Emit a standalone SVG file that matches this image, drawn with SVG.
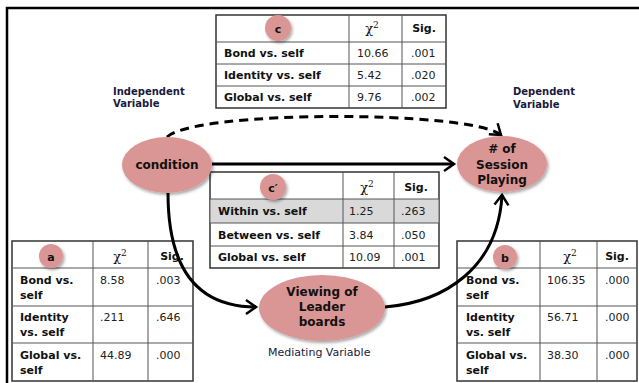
<svg xmlns="http://www.w3.org/2000/svg" width="639" height="383" viewBox="0 0 639 383">
<style>
.lbl{font-family:"DejaVu Sans",Verdana,sans-serif;font-size:11px;font-weight:bold;fill:#111}
.num{font-family:"DejaVu Sans",Verdana,sans-serif;font-size:11px;fill:#222}
.hd{font-family:"DejaVu Sans",Verdana,sans-serif;font-size:11px;font-weight:bold;fill:#111;text-anchor:middle}
.chi{font-family:"DejaVu Serif","Liberation Serif",serif;font-size:13px;fill:#111;text-anchor:middle}
.node{font-family:"DejaVu Sans",Verdana,sans-serif;font-size:12px;font-weight:bold;fill:#111;text-anchor:middle}
.var{font-family:"DejaVu Sans",Verdana,sans-serif;font-size:10px;font-weight:bold;fill:#1a1a40}
.med{font-family:"DejaVu Sans",Verdana,sans-serif;font-size:11px;fill:#1a1a40}
.grid{stroke:#555;stroke-width:1;fill:none}
.outer{stroke:#333;stroke-width:1.5;fill:#fff}
.ell{fill:#d99694;filter:url(#sh)}
.conn{fill:none;stroke:#000;stroke-width:3}
</style>
<defs>
<filter id="sh" x="-20%" y="-20%" width="150%" height="150%">
<feDropShadow dx="1.5" dy="2" stdDeviation="1.5" flood-color="#000" flood-opacity="0.35"/>
</filter>
<marker id="arr" markerUnits="userSpaceOnUse" markerWidth="20" markerHeight="20" viewBox="-12 -10 14 20" refX="0" refY="0" orient="auto">
<path d="M-10,-7 L0,0 L-10,7" fill="none" stroke="#000" stroke-width="2.5" stroke-dasharray="none"/>
</marker>
</defs>
<rect width="639" height="383" fill="#fff"/>
<path d="M639,8 H7 V383" fill="none" stroke="#000" stroke-width="2.5"/>

<g id="table-c">
<rect class="outer" x="216" y="15" width="230" height="93"/>
<path class="grid" d="M216,42 H446 M216,64 H446 M216,86 H446 M349,15 V108 M402,15 V108"/>
<circle class="ell" cx="278" cy="28" r="13"/>
<text class="hd" x="278" y="33" font-size="12">c</text>
<text class="chi" x="372" y="33">χ<tspan font-size="9" dy="-5">2</tspan></text>
<text class="hd" x="424" y="32">Sig.</text>
<text class="lbl" x="224" y="57">Bond vs. self</text>
<text class="lbl" x="224" y="79">Identity vs. self</text>
<text class="lbl" x="224" y="101">Global vs. self</text>
<text class="num" x="357" y="57">10.66</text>
<text class="num" x="357" y="79">5.42</text>
<text class="num" x="357" y="101">9.76</text>
<text class="num" x="411" y="57">.001</text>
<text class="num" x="411" y="79">.020</text>
<text class="num" x="411" y="101">.002</text>
</g>

<g id="table-cprime">
<rect class="outer" x="210" y="172" width="229" height="96"/>
<rect x="210.5" y="199" width="228" height="24" fill="#d9d9d9"/>
<path class="grid" d="M210,199 H439 M210,223 H439 M210,246 H439 M343,172 V268 M394,172 V268"/>
<circle class="ell" cx="273" cy="187" r="13"/>
<text class="hd" x="273" y="192" font-size="12">c′</text>
<text class="chi" x="367" y="192">χ<tspan font-size="9" dy="-5">2</tspan></text>
<text class="hd" x="416" y="191">Sig.</text>
<text class="lbl" x="218" y="215">Within vs. self</text>
<text class="lbl" x="218" y="239">Between vs. self</text>
<text class="lbl" x="218" y="261">Global vs. self</text>
<text class="num" x="349" y="215">1.25</text>
<text class="num" x="349" y="239">3.84</text>
<text class="num" x="349" y="261">10.09</text>
<text class="num" x="401" y="215">.263</text>
<text class="num" x="401" y="239">.050</text>
<text class="num" x="401" y="261">.001</text>
</g>

<g id="table-a">
<rect class="outer" x="12" y="241" width="181" height="140"/>
<path class="grid" d="M12,268 H193 M12,306 H193 M12,343 H193 M93,241 V381 M148,241 V381"/>
<circle class="ell" cx="51" cy="256" r="12"/>
<text class="hd" x="51" y="261" font-size="12">a</text>
<text class="chi" x="120" y="261">χ<tspan font-size="9" dy="-5">2</tspan></text>
<text class="hd" x="172" y="260">Sig.</text>
<text class="lbl" x="20" y="284">Bond vs.</text>
<text class="lbl" x="20" y="299">self</text>
<text class="lbl" x="20" y="321">Identity</text>
<text class="lbl" x="20" y="336">vs. self</text>
<text class="lbl" x="20" y="359">Global vs.</text>
<text class="lbl" x="20" y="374">self</text>
<text class="num" x="100" y="284">8.58</text>
<text class="num" x="100" y="321">.211</text>
<text class="num" x="100" y="359">44.89</text>
<text class="num" x="156" y="284">.003</text>
<text class="num" x="156" y="321">.646</text>
<text class="num" x="156" y="359">.000</text>
</g>

<g id="table-b">
<rect class="outer" x="457" y="241" width="180" height="140"/>
<path class="grid" d="M457,268 H637 M457,306 H637 M457,343 H637 M540,241 V381 M597,241 V381"/>
<circle class="ell" cx="505" cy="257" r="12"/>
<text class="hd" x="505" y="262" font-size="12">b</text>
<text class="chi" x="570" y="261">χ<tspan font-size="9" dy="-5">2</tspan></text>
<text class="hd" x="617" y="260">Sig.</text>
<text class="lbl" x="466" y="284">Bond vs.</text>
<text class="lbl" x="466" y="299">self</text>
<text class="lbl" x="466" y="321">Identity</text>
<text class="lbl" x="466" y="336">vs. self</text>
<text class="lbl" x="466" y="359">Global vs.</text>
<text class="lbl" x="466" y="374">self</text>
<text class="num" x="547" y="284">106.35</text>
<text class="num" x="547" y="321">56.71</text>
<text class="num" x="547" y="359">38.30</text>
<text class="num" x="605" y="284">.000</text>
<text class="num" x="605" y="321">.000</text>
<text class="num" x="605" y="359">.000</text>
</g>

<g id="connectors">
<path class="conn" d="M212,164 H454" marker-end="url(#arr)"/>
<path class="conn" d="M167,137 C195,110 470,110 501,135" stroke-width="2.2" stroke-dasharray="9,6" marker-end="url(#arr)"/>
<path class="conn" d="M168,193 C168,272 200,307 256,307" stroke-width="2.5" marker-end="url(#arr)"/>
<path class="conn" d="M385,307 C445,302 498,268 502,195" stroke-width="2.5" marker-end="url(#arr)"/>
</g>

<g id="node-condition">
<ellipse class="ell" cx="167" cy="165" rx="45" ry="28"/>
<text class="node" x="167" y="169">condition</text>
</g>

<g id="node-session">
<ellipse class="ell" cx="502" cy="164" rx="45" ry="28"/>
<text class="node" x="502" y="153"># of</text>
<text class="node" x="502" y="169">Session</text>
<text class="node" x="502" y="184">Playing</text>
</g>

<g id="node-viewing">
<ellipse class="ell" cx="322" cy="308" rx="63" ry="33"/>
<text class="node" x="322" y="296">Viewing of</text>
<text class="node" x="322" y="311">Leader</text>
<text class="node" x="322" y="326">boards</text>
</g>

<g id="labels">
<text class="var" x="113" y="95">Independent</text>
<text class="var" x="113" y="107">Variable</text>
<text class="var" x="513" y="95">Dependent</text>
<text class="var" x="513" y="108">Variable</text>
<text class="med" x="268" y="356">Mediating Variable</text>
</g>
</svg>
